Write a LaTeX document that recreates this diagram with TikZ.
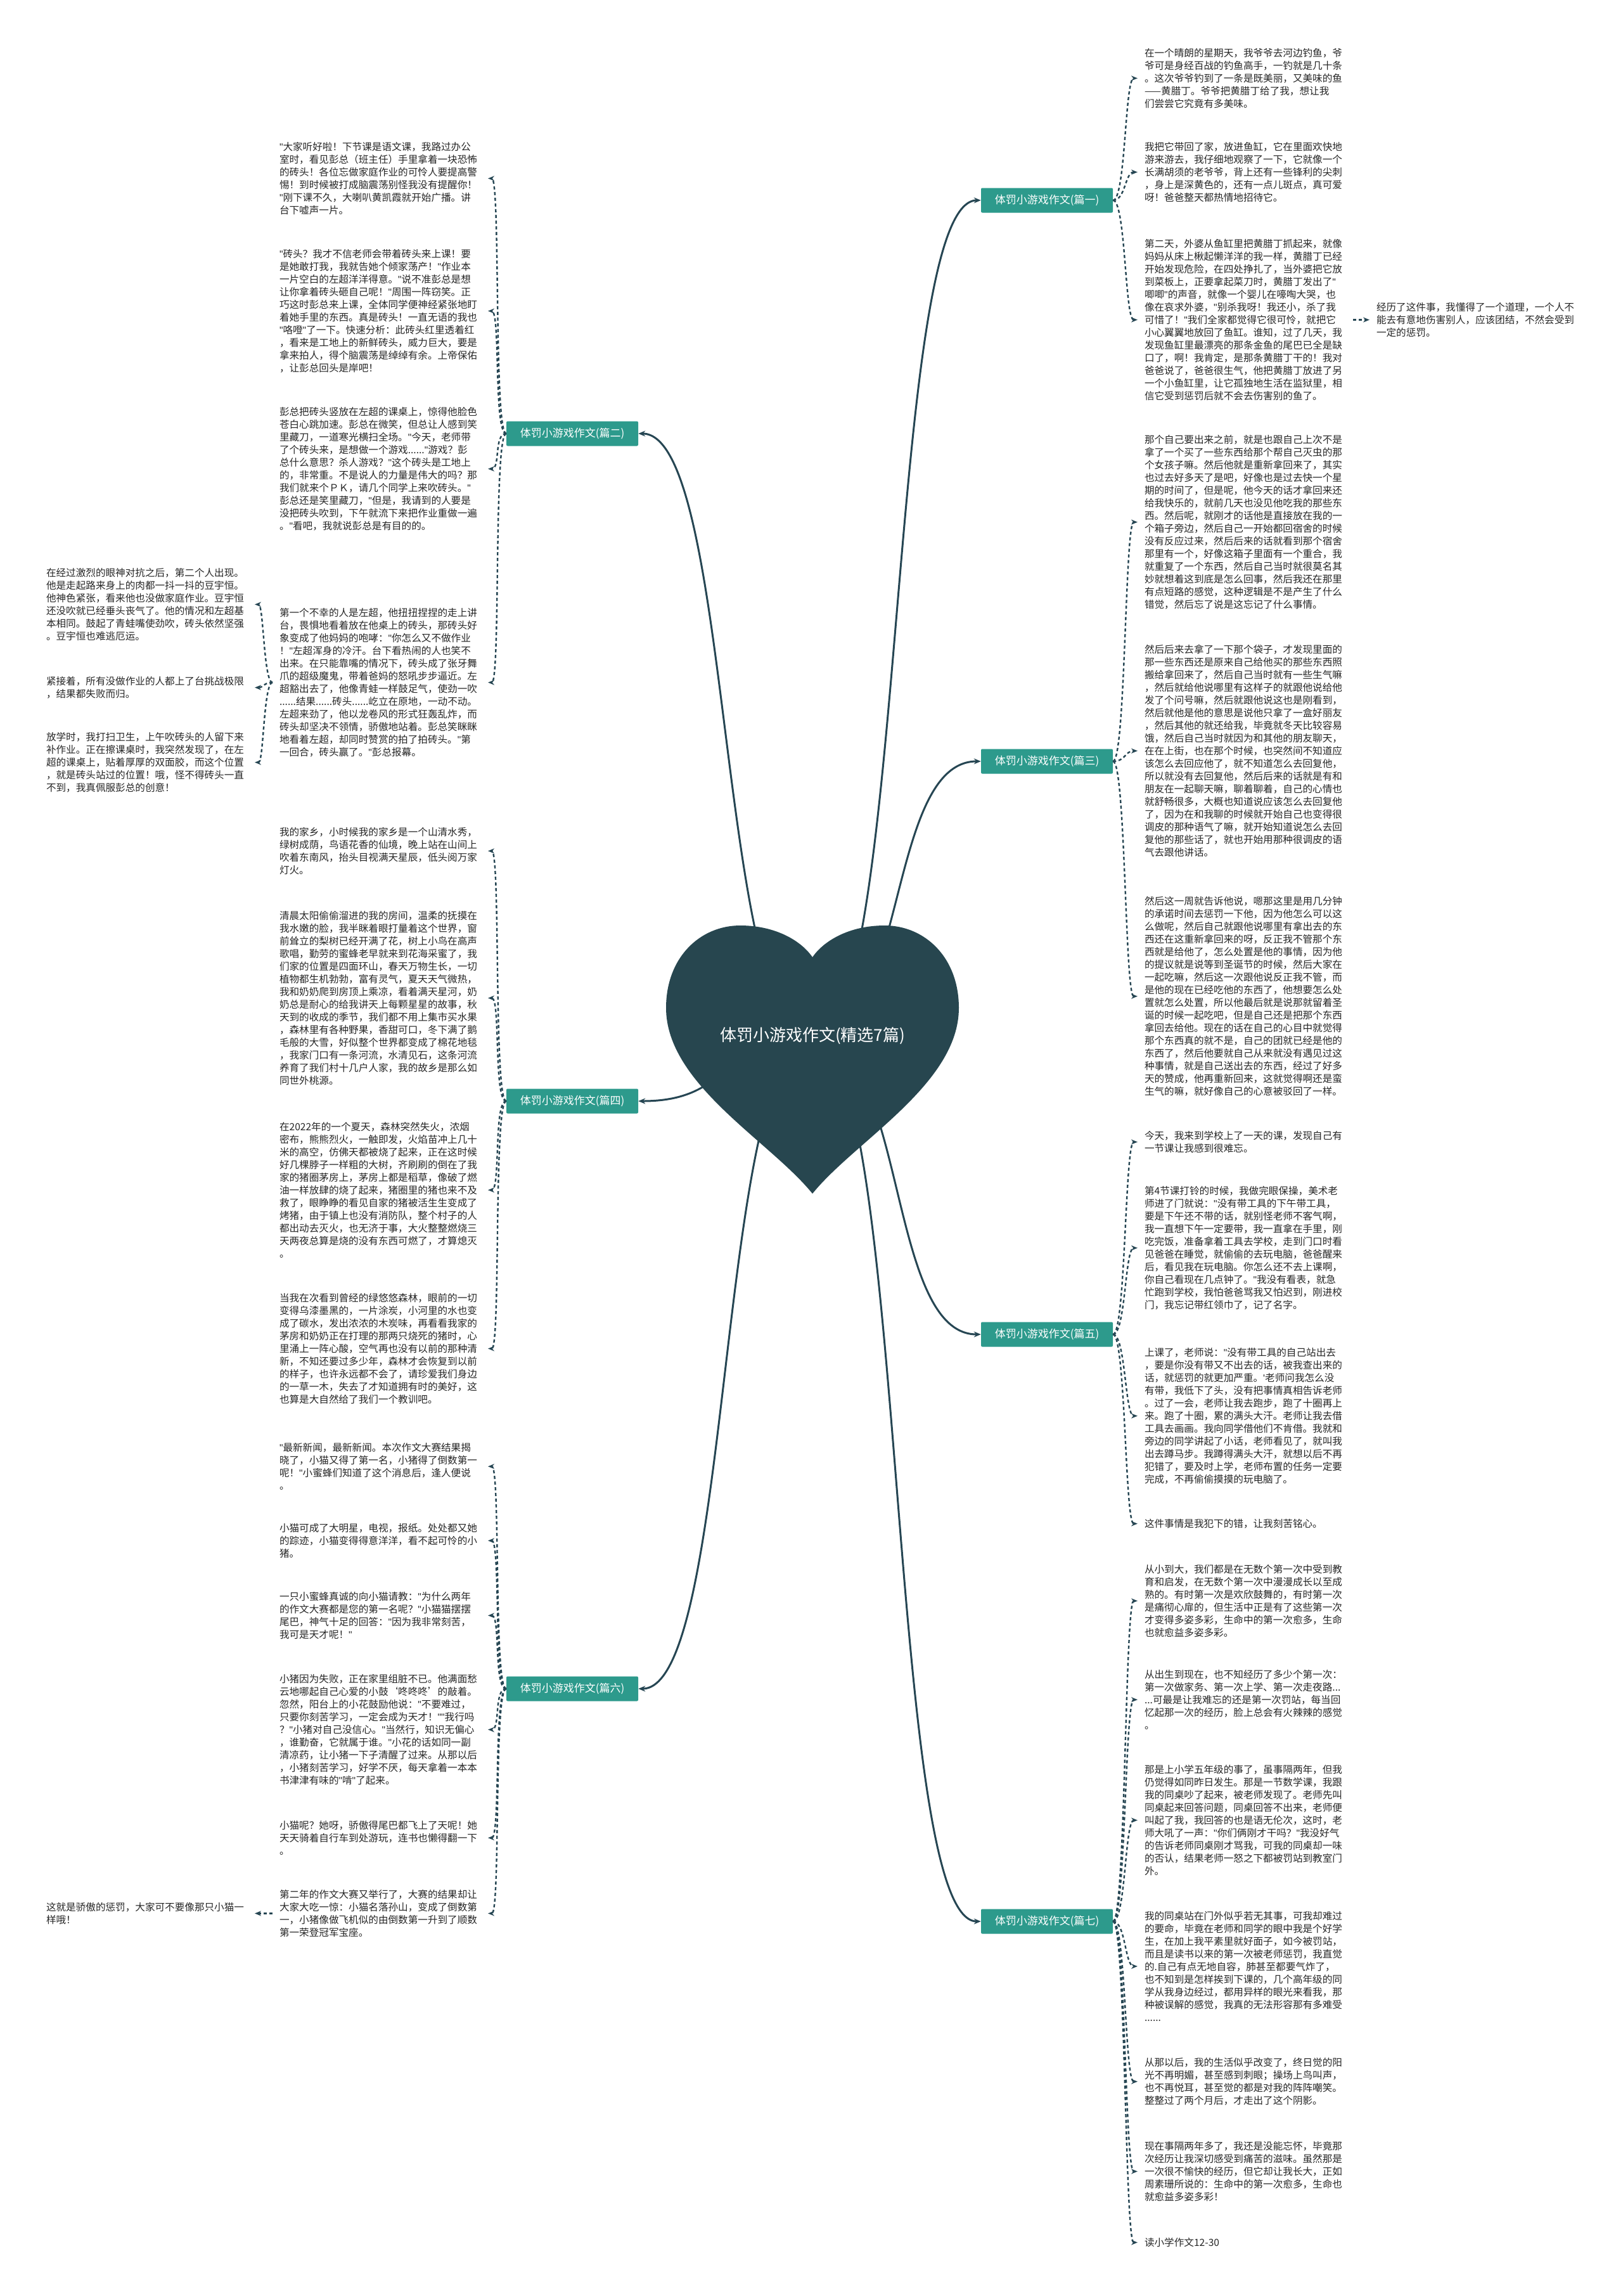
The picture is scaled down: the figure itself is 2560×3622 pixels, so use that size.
\documentclass[tikz,border=0pt]{standalone}
\usepackage{fontspec}
\setmainfont{Noto Sans CJK SC}
\newfontfamily\latinfont{Liberation Sans}
\newcommand{\dq}{{\latinfont"}}
\usetikzlibrary{arrows.meta}
\definecolor{heartcol}{HTML}{27464F}
\definecolor{boxcol}{HTML}{2D9A8C}
\definecolor{linkcol}{HTML}{264653}
\definecolor{txtcol}{HTML}{262626}
\begin{document}
\begin{tikzpicture}[x=1pt, y=-1pt,
    leaf/.style={anchor=north west, align=left, text width=318pt, inner sep=0pt, outer xsep=11pt, text=txtcol, font={\fontsize{15.6pt}{20pt}\selectfont}},
    branch/.style={fill=boxcol, text=white, minimum width=208pt, minimum height=39pt, inner sep=0pt, rounded corners=2pt, font={\fontsize{17pt}{17pt}\selectfont}},
    trunk/.style={draw=linkcol, line width=3pt, -{Stealth[length=11pt,width=9pt]}},
    twig/.style={draw=linkcol, line width=2.4pt, dash pattern=on 5pt off 4pt, -{Stealth[length=10pt,width=8pt]}}]
    \useasboundingbox (0,0) rectangle (2560,3622);
    \fill[white] (0,0) rectangle (2560,3622);

    \coordinate (hub) at (1282,1640);
    \node[branch] (b1) at (1652,316) {体罚小游戏作文(篇一)};
    \node[branch] (b2) at (903,684) {体罚小游戏作文(篇二)};
    \node[branch] (b3) at (1652,1201) {体罚小游戏作文(篇三)};
    \node[branch] (b4) at (903,1737) {体罚小游戏作文(篇四)};
    \node[branch] (b5) at (1652,2105) {体罚小游戏作文(篇五)};
    \node[branch] (b6) at (903,2664) {体罚小游戏作文(篇六)};
    \node[branch] (b7) at (1652,3031) {体罚小游戏作文(篇七)};

    \draw[trunk] (hub) .. controls +(150,0) and +(-150,0) .. (b1.west);
    \draw[trunk] (hub) .. controls +(-150,0) and +(150,0) .. (b2.east);
    \draw[trunk] (hub) .. controls +(150,0) and +(-150,0) .. (b3.west);
    \draw[trunk] (hub) .. controls +(-150,0) and +(150,0) .. (b4.east);
    \draw[trunk] (hub) .. controls +(150,0) and +(-150,0) .. (b5.west);
    \draw[trunk] (hub) .. controls +(-150,0) and +(150,0) .. (b6.east);
    \draw[trunk] (hub) .. controls +(150,0) and +(-150,0) .. (b7.west);

    \fill[heartcol] (1282,1883)
        .. controls (1215,1800) and (1051,1710) .. (1051,1590)
        .. controls (1051,1510) and (1105,1460) .. (1168,1460)
        .. controls (1225,1460) and (1265,1485) .. (1282,1510)
        .. controls (1299,1485) and (1339,1460) .. (1396,1460)
        .. controls (1459,1460) and (1513,1510) .. (1513,1590)
        .. controls (1513,1710) and (1349,1800) .. (1282,1883) -- cycle;
    \node[text=white, font={\fontsize{26pt}{26pt}\selectfont}] (root) at (1282,1634) {体罚小游戏作文(精选7篇)};

    \node[leaf] (t1a) at (1795,76) {在一个晴朗的星期天，我爷爷去河边钓鱼，爷\\
        爷可是身经百战的钓鱼高手，一钓就是几十条\\
        。这次爷爷钓到了一条是既美丽，又美味的鱼\\
        ——黄腊丁。爷爷把黄腊丁给了我，想让我\\
        们尝尝它究竟有多美味。};
    \node[leaf] (t1b) at (1795,224) {我把它带回了家，放进鱼缸，它在里面欢快地\\
        游来游去，我仔细地观察了一下，它就像一个\\
        长满胡须的老爷爷，背上还有一些锋利的尖刺\\
        ，身上是深黄色的，还有一点儿斑点，真可爱\\
        呀！爸爸整天都热情地招待它。};
    \node[leaf] (t1c) at (1795,377) {第二天，外婆从鱼缸里把黄腊丁抓起来，就像\\
        妈妈从床上楸起懒洋洋的我一样，黄腊丁已经\\
        开始发现危险，在四处挣扎了，当外婆把它放\\
        到菜板上，正要拿起菜刀时，黄腊丁发出了\dq\\
        唧唧\dq{}的声音，就像一个婴儿在嚎啕大哭，也\\
        像在哀求外婆，\dq{}别杀我呀！我还小，杀了我\\
        可惜了！\dq{}我们全家都觉得它很可怜，就把它\\
        小心翼翼地放回了鱼缸。谁知，过了几天，我\\
        发现鱼缸里最漂亮的那条金鱼的尾巴已全是缺\\
        口了，啊！我肯定，是那条黄腊丁干的！我对\\
        爸爸说了，爸爸很生气，他把黄腊丁放进了另\\
        一个小鱼缸里，让它孤独地生活在监狱里，相\\
        信它受到惩罚后就不会去伤害别的鱼了。};
    \node[leaf, anchor=west] (t1c1) at (2161,|-t1c.west) {经历了这件事，我懂得了一个道理，一个人不\\
        能去有意地伤害别人，应该团结，不然会受到\\
        一定的惩罚。};

    \node[leaf] (t2a) at (430,224) {\dq{}大家听好啦！下节课是语文课，我路过办公\\
        室时，看见彭总（班主任）手里拿着一块恐怖\\
        的砖头！各位忘做家庭作业的可怜人要提高警\\
        惕！到时候被打成脑震荡别怪我没有提醒你！\\
        \dq{}刚下课不久，大喇叭黄凯霞就开始广播。讲\\
        台下嘘声一片。};
    \node[leaf] (t2b) at (430,393) {\dq{}砖头？我才不信老师会带着砖头来上课！要\\
        是她敢打我，我就告她个倾家荡产！\dq{}作业本\\
        一片空白的左超洋洋得意。\dq{}说不准彭总是想\\
        让你拿着砖头砸自己呢！\dq{}周围一阵窃笑。正\\
        巧这时彭总来上课，全体同学便神经紧张地盯\\
        着她手里的东西。真是砖头！一直无语的我也\\
        \dq{}咯噔\dq{}了一下。快速分析：此砖头红里透着红\\
        ，看来是工地上的新鲜砖头，威力巨大，要是\\
        拿来拍人，得个脑震荡是绰绰有余。上帝保佑\\
        ，让彭总回头是岸吧！};
    \node[leaf] (t2c) at (430,642) {彭总把砖头竖放在左超的课桌上，惊得他脸色\\
        苍白心跳加速。彭总在微笑，但总让人感到笑\\
        里藏刀，一道寒光横扫全场。\dq{}今天，老师带\\
        了个砖头来，是想做一个游戏......\dq{}游戏？彭\\
        总什么意思？杀人游戏？\dq{}这个砖头是工地上\\
        的，非常重。不是说人的力量是伟大的吗？那\\
        我们就来个ＰＫ，请几个同学上来吹砖头。\dq\\
        彭总还是笑里藏刀，\dq{}但是，我请到的人要是\\
        没把砖头吹到，下午就流下来把作业重做一遍\\
        。\dq{}看吧，我就说彭总是有目的的。};
    \node[leaf] (t2d) at (430,959) {第一个不幸的人是左超，他扭扭捏捏的走上讲\\
        台，畏惧地看着放在他桌上的砖头，那砖头好\\
        象变成了他妈妈的咆哮：\dq{}你怎么又不做作业\\
        ！\dq{}左超浑身的冷汗。台下看热闹的人也笑不\\
        出来。在只能靠嘴的情况下，砖头成了张牙舞\\
        爪的超级魔鬼，带着爸妈的怒吼步步逼近。左\\
        超豁出去了，他像青蛙一样鼓足气，使劲一吹\\
        ......结果......砖头......屹立在原地，一动不动。\\
        左超来劲了，他以龙卷风的形式狂轰乱炸，而\\
        砖头却坚决不领情，骄傲地站着。彭总笑眯眯\\
        地看着左超，却同时赞赏的拍了拍砖头。\dq{}第\\
        一回合，砖头赢了。\dq{}彭总报幕。};
    \node[leaf] (t2d1) at (62,896) {在经过激烈的眼神对抗之后，第二个人出现。\\
        他是走起路来身上的肉都一抖一抖的豆宇恒。\\
        他神色紧张，看来他也没做家庭作业。豆宇恒\\
        还没吹就已经垂头丧气了。他的情况和左超基\\
        本相同。鼓起了青蛙嘴使劲吹，砖头依然坚强\\
        。豆宇恒也难逃厄运。};
    \node[leaf] (t2d2) at (62,1067) {紧接着，所有没做作业的人都上了台挑战极限\\
        ，结果都失败而归。};
    \node[leaf] (t2d3) at (62,1155) {放学时，我打扫卫生，上午吹砖头的人留下来\\
        补作业。正在擦课桌时，我突然发现了，在左\\
        超的课桌上，贴着厚厚的双面胶，而这个位置\\
        ，就是砖头站过的位置！哦，怪不得砖头一直\\
        不到，我真佩服彭总的创意！};

    \node[leaf] (t3a) at (1795,686) {那个自己要出来之前，就是也跟自己上次不是\\
        拿了一个买了一些东西给那个帮自己灭虫的那\\
        个女孩子嘛。然后他就是重新拿回来了，其实\\
        也过去好多天了是吧，好像也是过去快一个星\\
        期的时间了，但是呢，他今天的话才拿回来还\\
        给我快乐的，就前几天也没见他吃我的那些东\\
        西。然后呢，就刚才的话他是直接放在我的一\\
        个箱子旁边，然后自己一开始都回宿舍的时候\\
        没有反应过来，然后后来的话就看到那个宿舍\\
        那里有一个，好像这箱子里面有一个重合，我\\
        就重复了一个东西，然后自己当时就很莫名其\\
        妙就想着这到底是怎么回事，然后我还在那里\\
        有点短路的感觉，这种逻辑是不是产生了什么\\
        错觉，然后忘了说是这忘记了什么事情。};
    \node[leaf] (t3b) at (1795,1017) {然后后来去拿了一下那个袋子，才发现里面的\\
        那一些东西还是原来自己给他买的那些东西照\\
        搬给拿回来了，然后自己当时就有一些生气嘛\\
        ，然后就给他说哪里有这样子的就跟他说给他\\
        发了个问号嘛，然后就跟他说这也是刚看到，\\
        然后就他是他的意思是说他只拿了一盒好丽友\\
        ，然后其他的就还给我，毕竟就冬天比较容易\\
        饿，然后自己当时就因为和其他的朋友聊天，\\
        在在上街，也在那个时候，也突然间不知道应\\
        该怎么去回应他了，就不知道怎么去回复他，\\
        所以就没有去回复他，然后后来的话就是有和\\
        朋友在一起聊天嘛，聊着聊着，自己的心情也\\
        就舒畅很多，大概也知道说应该怎么去回复他\\
        了，因为在和我聊的时候就开始自己也变得很\\
        调皮的那种语气了嘛，就开始知道说怎么去回\\
        复他的那些话了，就也开始用那种很调皮的语\\
        气去跟他讲话。};
    \node[leaf] (t3c) at (1795,1414) {然后这一周就告诉他说，嗯那这里是用几分钟\\
        的承诺时间去惩罚一下他，因为他怎么可以这\\
        么做呢，然后自己就跟他说哪里有拿出去的东\\
        西还在这重新拿回来的呀，反正我不管那个东\\
        西就是给他了，怎么处置是他的事情，因为他\\
        的提议就是说等到圣诞节的时候，然后大家在\\
        一起吃嘛，然后这一次跟他说反正我不管，而\\
        是他的现在已经吃他的东西了，他想要怎么处\\
        置就怎么处置，所以他最后就是说那就留着圣\\
        诞的时候一起吃吧，但是自己还是把那个东西\\
        拿回去给他。现在的话在自己的心目中就觉得\\
        那个东西真的就不是，自己的团就已经是他的\\
        东西了，然后他要就自己从来就没有遇见过这\\
        种事情，就是自己送出去的东西，经过了好多\\
        天的赞成，他再重新回来，这就觉得啊还是蛮\\
        生气的嘛，就好像自己的心意被驳回了一样。};

    \node[leaf] (t4a) at (430,1305) {我的家乡，小时候我的家乡是一个山清水秀，\\
        绿树成荫，鸟语花香的仙境，晚上站在山间上\\
        吹着东南风，抬头目视满天星辰，低头阅万家\\
        灯火。};
    \node[leaf] (t4b) at (430,1437) {清晨太阳偷偷溜进的我的房间，温柔的抚摸在\\
        我水嫩的脸，我半眯着眼打量着这个世界，窗\\
        前耸立的梨树已经开满了花，树上小鸟在高声\\
        歌唱，勤劳的蜜蜂老早就来到花海采蜜了，我\\
        们家的位置是四面环山，春天万物生长，一切\\
        植物都生机勃勃，富有灵气，夏天天气微热，\\
        我和奶奶爬到房顶上乘凉，看着满天星河，奶\\
        奶总是耐心的给我讲天上每颗星星的故事，秋\\
        天到的收成的季节，我们都不用上集市买水果\\
        ，森林里有各种野果，香甜可口，冬下满了鹅\\
        毛般的大雪，好似整个世界都变成了棉花地毯\\
        ，我家门口有一条河流，水清见石，这条河流\\
        养育了我们村十几户人家，我的故乡是那么如\\
        同世外桃源。};
    \node[leaf] (t4c) at (430,1770) {在2022年的一个夏天，森林突然失火，浓烟\\
        密布，熊熊烈火，一触即发，火焰苗冲上几十\\
        米的高空，仿佛天都被烧了起来，正在这时候\\
        好几棵脖子一样粗的大树，齐刷刷的倒在了我\\
        家的猪圈茅房上，茅房上都是稻草，像破了燃\\
        油一样放肆的烧了起来，猪圈里的猪也来不及\\
        救了，眼睁睁的看见自家的猪被活生生变成了\\
        烤猪，由于镇上也没有消防队，整个村子的人\\
        都出动去灭火，也无济于事，大火整整燃烧三\\
        天两夜总算是烧的没有东西可燃了，才算熄灭\\
        。};
    \node[leaf] (t4d) at (430,2040) {当我在次看到曾经的绿悠悠森林，眼前的一切\\
        变得乌漆墨黑的，一片涂炭，小河里的水也变\\
        成了碳水，发出浓浓的木炭味，再看看我家的\\
        茅房和奶奶正在打理的那两只烧死的猪时，心\\
        里涌上一阵心酸，空气再也没有以前的那种清\\
        新，不知还要过多少年，森林才会恢复到以前\\
        的样子，也许永远都不会了，请珍爱我们身边\\
        的一草一木，失去了才知道拥有时的美好，这\\
        也算是大自然给了我们一个教训吧。};

    \node[leaf] (t5a) at (1795,1784) {今天，我来到学校上了一天的课，发现自己有\\
        一节课让我感到很难忘。};
    \node[leaf] (t5b) at (1795,1871) {第4节课打铃的时候，我做完眼保操，美术老\\
        师进了门就说：\dq{}没有带工具的下午带工具，\\
        要是下午还不带的话，就别怪老师不客气啊，\\
        我一直想下午一定要带，我一直拿在手里，刚\\
        吃完饭，准备拿着工具去学校，走到门口时看\\
        见爸爸在睡觉，就偷偷的去玩电脑，爸爸醒来\\
        后，看见我在玩电脑。你怎么还不去上课啊，\\
        你自己看现在几点钟了。\dq{}我没有看表，就急\\
        忙跑到学校，我怕爸爸骂我又怕迟到，刚进校\\
        门，我忘记带红领巾了，记了名字。};
    \node[leaf] (t5c) at (1795,2126) {上课了，老师说：\dq{}没有带工具的自己站出去\\
        ，要是你没有带又不出去的话，被我查出来的\\
        话，就惩罚的就更加严重。{\latinfont'}老师问我怎么没\\
        有带，我低下了头，没有把事情真相告诉老师\\
        。过了一会，老师让我去跑步，跑了十圈再上\\
        来。跑了十圈，累的满头大汗。老师让我去借\\
        工具去画画。我向同学借他们不肯借。我就和\\
        旁边的同学讲起了小话，老师看见了，就叫我\\
        出去蹲马步。我蹲得满头大汗，就想以后不再\\
        犯错了，要及时上学，老师布置的任务一定要\\
        完成，不再偷偷摸摸的玩电脑了。};
    \node[leaf] (t5d) at (1795,2396) {这件事情是我犯下的错，让我刻苦铭心。};

    \node[leaf] (t6a) at (430,2276) {\dq{}最新新闻，最新新闻。本次作文大赛结果揭\\
        晓了，小猫又得了第一名，小猪得了倒数第一\\
        呢！\dq{}小蜜蜂们知道了这个消息后，逢人便说\\
        。};
    \node[leaf] (t6b) at (430,2403) {小猫可成了大明星，电视，报纸。处处都又她\\
        的踪迹，小猫变得得意洋洋，看不起可怜的小\\
        猪。};
    \node[leaf] (t6c) at (430,2511) {一只小蜜蜂真诚的向小猫请教：\dq{}为什么两年\\
        的作文大赛都是您的第一名呢？\dq{}小猫猫摆摆\\
        尾巴，神气十足的回答：\dq{}因为我非常刻苦，\\
        我可是天才呢！\dq};
    \node[leaf] (t6d) at (430,2641) {小猪因为失败，正在家里组脏不已。他满面愁\\
        云地哪起自己心爱的小鼓‘咚咚咚’的敲着。\\
        忽然，阳台上的小花鼓励他说：\dq{}不要难过，\\
        只要你刻苦学习，一定会成为天才！\dq\dq{}我行吗\\
        ？\dq{}小猪对自己没信心。\dq{}当然行，知识无偏心\\
        ，谁勤奋，它就属于谁。\dq{}小花的话如同一副\\
        清凉药，让小猪一下子清醒了过来。从那以后\\
        ，小猪刻苦学习，好学不厌，每天拿着一本本\\
        书津津有味的\dq{}啃\dq{}了起来。};
    \node[leaf] (t6e) at (430,2872) {小猫呢？她呀，骄傲得尾巴都飞上了天呢！她\\
        天天骑着自行车到处游玩，连书也懒得翻一下\\
        。};
    \node[leaf] (t6f) at (430,2981) {第二年的作文大赛又举行了，大赛的结果却让\\
        大家大吃一惊：小猫名落孙山，变成了倒数第\\
        一，小猪像做飞机似的由倒数第一升到了顺数\\
        第一荣登冠军宝座。};
    \node[leaf, anchor=west] (t6f1) at (62,|-t6f.west) {这就是骄傲的惩罚，大家可不要像那只小猫一\\
        样哦！};

    \node[leaf] (t7a) at (1795,2468) {从小到大，我们都是在无数个第一次中受到教\\
        育和启发，在无数个第一次中漫漫成长以至成\\
        熟的。有时第一次是欢欣鼓舞的，有时第一次\\
        是痛彻心扉的，但生活中正是有了这些第一次\\
        才变得多姿多彩，生命中的第一次愈多，生命\\
        也就愈益多姿多彩。};
    \node[leaf] (t7b) at (1795,2634) {从出生到现在，也不知经历了多少个第一次：\\
        第一次做家务、第一次上学、第一次走夜路...\\
        ...可最是让我难忘的还是第一次罚站，每当回\\
        忆起那一次的经历，脸上总会有火辣辣的感觉\\
        。};
    \node[leaf] (t7c) at (1795,2784) {那是上小学五年级的事了，虽事隔两年，但我\\
        仍觉得如同昨日发生。那是一节数学课，我跟\\
        我的同桌吵了起来，被老师发现了。老师先叫\\
        同桌起来回答问题，同桌回答不出来，老师便\\
        叫起了我，我回答的也是语无伦次，这时，老\\
        师大吼了一声：\dq{}你们俩刚才干吗？\dq{}我没好气\\
        的告诉老师同桌刚才骂我，可我的同桌却一味\\
        的否认，结果老师一怒之下都被罚站到教室门\\
        外。};
    \node[leaf] (t7d) at (1795,3015) {我的同桌站在门外似乎若无其事，可我却难过\\
        的要命，毕竟在老师和同学的眼中我是个好学\\
        生，在加上我平素里就好面子，如今被罚站，\\
        而且是读书以来的第一次被老师惩罚，我直觉\\
        的.自己有点无地自容，肺甚至都要气炸了，\\
        也不知到是怎样挨到下课的，几个高年级的同\\
        学从我身边经过，都用异样的眼光来看我，那\\
        种被误解的感觉，我真的无法形容那有多难受\\
        ......};
    \node[leaf] (t7e) at (1795,3246) {从那以后，我的生活似乎改变了，终日觉的阳\\
        光不再明媚，甚至感到刺眼；操场上鸟叫声，\\
        也不再悦耳，甚至觉的都是对我的阵阵嘲笑。\\
        整整过了两个月后，才走出了这个阴影。};
    \node[leaf] (t7f) at (1795,3378) {现在事隔两年多了，我还是没能忘怀，毕竟那\\
        次经历让我深切感受到痛苦的滋味。虽然那是\\
        一次很不愉快的经历，但它却让我长大，正如\\
        周素珊所说的：生命中的第一次愈多，生命也\\
        就愈益多姿多彩！};
    \node[leaf] (t7g) at (1795,3530) {读小学作文12-30};

    \draw[twig] (b1.east) .. controls +(20,0) and +(-20,0) .. (t1a.west);
    \draw[twig] (b1.east) .. controls +(20,0) and +(-20,0) .. (t1b.west);
    \draw[twig] (b1.east) .. controls +(20,0) and +(-20,0) .. (t1c.west);
    \draw[twig] (t1c.east) -- (t1c1.west);
    \draw[twig] (b2.west) .. controls +(-20,0) and +(20,0) .. (t2a.east);
    \draw[twig] (b2.west) .. controls +(-20,0) and +(20,0) .. (t2b.east);
    \draw[twig] (b2.west) .. controls +(-20,0) and +(20,0) .. (t2c.east);
    \draw[twig] (b2.west) .. controls +(-20,0) and +(20,0) .. (t2d.east);
    \draw[twig] (t2d.west) .. controls +(-14,0) and +(14,0) .. (t2d1.east);
    \draw[twig] (t2d.west) .. controls +(-14,0) and +(14,0) .. (t2d2.east);
    \draw[twig] (t2d.west) .. controls +(-14,0) and +(14,0) .. (t2d3.east);
    \draw[twig] (b3.east) .. controls +(20,0) and +(-20,0) .. (t3a.west);
    \draw[twig] (b3.east) .. controls +(20,0) and +(-20,0) .. (t3b.west);
    \draw[twig] (b3.east) .. controls +(20,0) and +(-20,0) .. (t3c.west);
    \draw[twig] (b4.west) .. controls +(-20,0) and +(20,0) .. (t4a.east);
    \draw[twig] (b4.west) .. controls +(-20,0) and +(20,0) .. (t4b.east);
    \draw[twig] (b4.west) .. controls +(-20,0) and +(20,0) .. (t4c.east);
    \draw[twig] (b4.west) .. controls +(-20,0) and +(20,0) .. (t4d.east);
    \draw[twig] (b5.east) .. controls +(20,0) and +(-20,0) .. (t5a.west);
    \draw[twig] (b5.east) .. controls +(20,0) and +(-20,0) .. (t5b.west);
    \draw[twig] (b5.east) .. controls +(20,0) and +(-20,0) .. (t5c.west);
    \draw[twig] (b5.east) .. controls +(20,0) and +(-20,0) .. (t5d.west);
    \draw[twig] (b6.west) .. controls +(-20,0) and +(20,0) .. (t6a.east);
    \draw[twig] (b6.west) .. controls +(-20,0) and +(20,0) .. (t6b.east);
    \draw[twig] (b6.west) .. controls +(-20,0) and +(20,0) .. (t6c.east);
    \draw[twig] (b6.west) .. controls +(-20,0) and +(20,0) .. (t6d.east);
    \draw[twig] (b6.west) .. controls +(-20,0) and +(20,0) .. (t6e.east);
    \draw[twig] (b6.west) .. controls +(-20,0) and +(20,0) .. (t6f.east);
    \draw[twig] (t6f.west) -- (t6f1.east);
    \draw[twig] (b7.east) .. controls +(20,0) and +(-20,0) .. (t7a.west);
    \draw[twig] (b7.east) .. controls +(20,0) and +(-20,0) .. (t7b.west);
    \draw[twig] (b7.east) .. controls +(20,0) and +(-20,0) .. (t7c.west);
    \draw[twig] (b7.east) .. controls +(20,0) and +(-20,0) .. (t7d.west);
    \draw[twig] (b7.east) .. controls +(20,0) and +(-20,0) .. (t7e.west);
    \draw[twig] (b7.east) .. controls +(20,0) and +(-20,0) .. (t7f.west);
    \draw[twig] (b7.east) .. controls +(20,0) and +(-20,0) .. (t7g.west);
\end{tikzpicture}
\end{document}
